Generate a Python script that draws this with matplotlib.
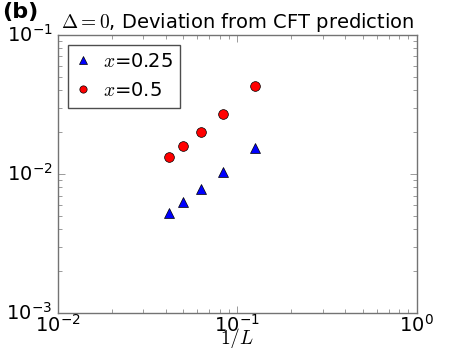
import matplotlib
matplotlib.use('Agg')
import matplotlib.pyplot as plt

# system sizes L -> 1/L
inv_L = [1/24, 1/20, 1/16, 1/12, 1/8]
dev_x025 = [0.00524, 0.00630, 0.0078, 0.01033, 0.01538]
dev_x05 = [0.01325, 0.0159, 0.0200, 0.0270, 0.0430]

plt.style.use('classic')
plt.rcParams['font.size'] = 14

fig = plt.figure(figsize=(4.63, 3.48), dpi=100)
fig.patch.set_facecolor('white')
ax = fig.add_axes([0.125, 0.1, 0.775, 0.8])

ax.loglog(inv_L, dev_x025, '^', color='blue', markersize=7, label=r'$x$=0.25')
ax.loglog(inv_L, dev_x05, 'o', color='red', markersize=7, label=r'$x$=0.5')

ax.set_xlim(1e-2, 1e0)
ax.set_ylim(1e-3, 1e-1)
ax.set_xlabel(r'$1/L$', va='center')
ax.xaxis.set_label_coords(0.5, -0.092)
ax.set_title(r'$\Delta=0$, Deviation from CFT prediction', fontsize=14)

# grey frame and ticks
for sp in ax.spines.values():
    sp.set_color('0.45')
ax.tick_params(which='major', color='0.45', size=5)
ax.tick_params(which='minor', color='0.45', size=3)
ax.tick_params(axis='x', pad=0.5)

leg = ax.legend(loc='upper left', numpoints=1, fontsize=14,
                handlelength=0.8, markerscale=0.75, borderpad=0.4,
                handletextpad=0.6)
leg.get_frame().set_edgecolor('0.3')

fig.text(0.005, 0.995, '(b)', fontsize=16, fontweight='bold', va='top', ha='left')

fig.savefig('out.png', dpi=100, facecolor='white')
